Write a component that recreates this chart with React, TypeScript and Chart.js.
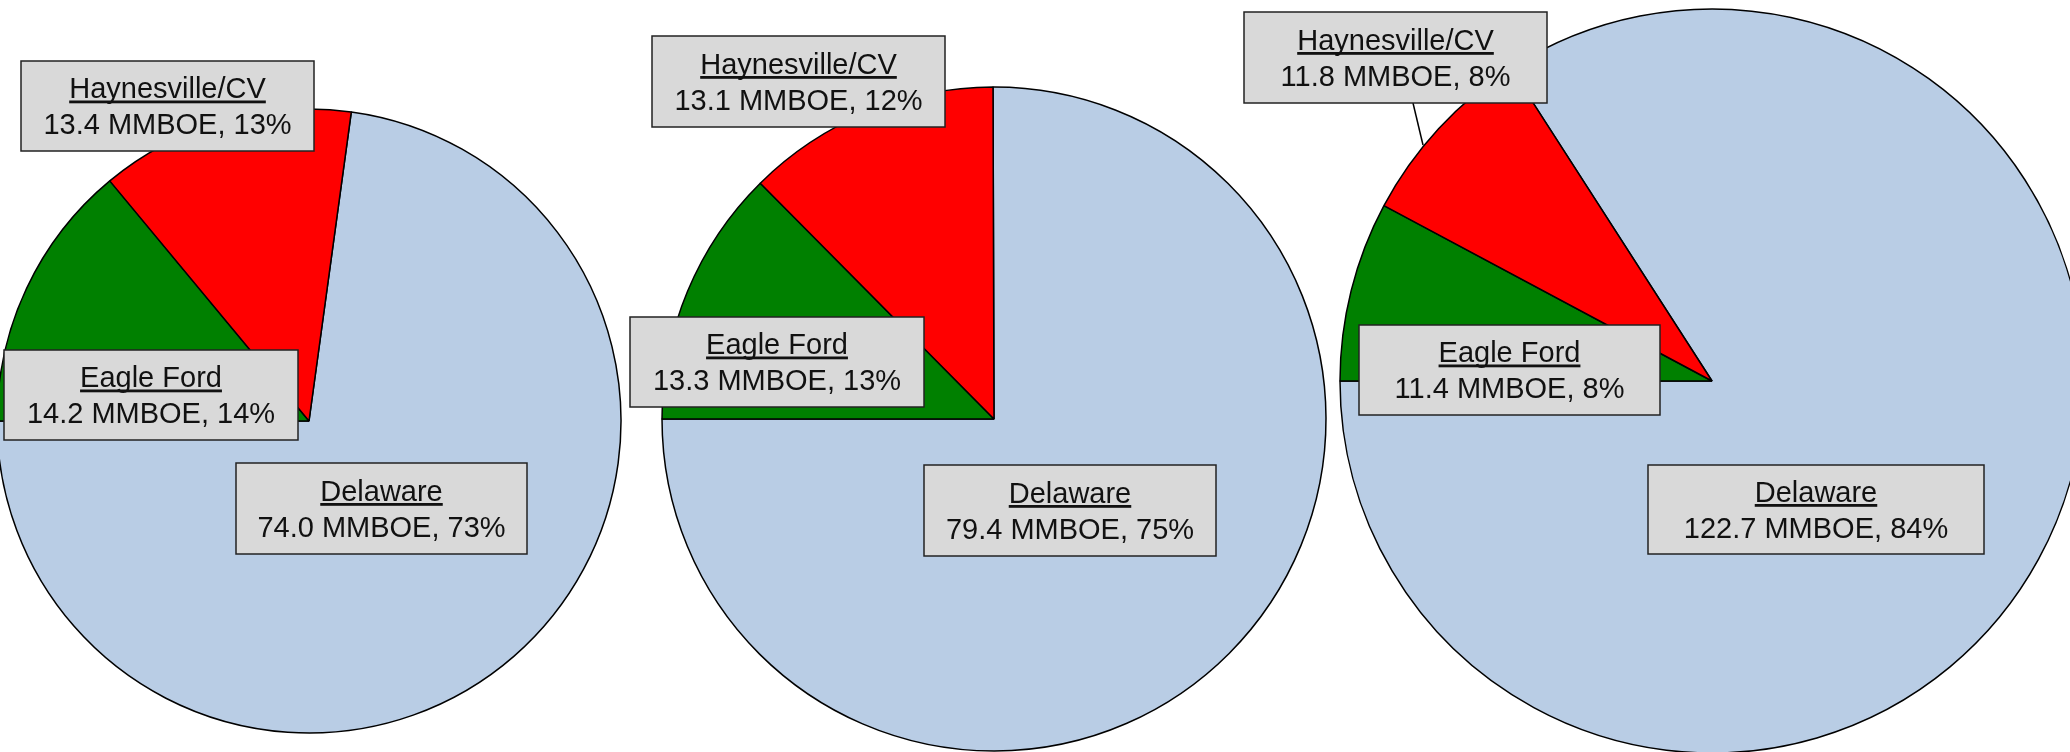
import React, { useEffect, useRef } from "react";
import { Chart, registerables } from "chart.js";

Chart.register(...registerables);

// ---- data ----
const CATEGORIES = ["Delaware", "Eagle Ford", "Haynesville/CV"];
const PIE1_VALUES = [74.0, 14.2, 13.4];
const PIE2_VALUES = [79.4, 13.3, 13.1];
const PIE3_VALUES = [122.7, 11.4, 11.8];
const UNIT = "MMBOE";

// ---- styles / layout ----
const COLORS = ["#b9cde5", "#008000", "#ff0000"];
const W = 2070;
const H = 752;

type Box = [number, number, number, number];
interface PieLayout {
  values: number[];
  cx: number;
  cy: number;
  r: number;
  boxes: Box[]; // same order as CATEGORIES
  leader?: [number, number, number, number] | null;
}

const PIES: PieLayout[] = [
  {
    values: PIE1_VALUES,
    cx: 309,
    cy: 421,
    r: 312,
    boxes: [
      [236, 463, 527, 554],
      [4, 350, 298, 440],
      [21, 61, 314, 151],
    ],
  },
  {
    values: PIE2_VALUES,
    cx: 994,
    cy: 419,
    r: 332,
    boxes: [
      [924, 465, 1216, 556],
      [630, 317, 924, 407],
      [652, 36, 945, 127],
    ],
  },
  {
    values: PIE3_VALUES,
    cx: 1712,
    cy: 381,
    r: 372,
    boxes: [
      [1648, 465, 1984, 554],
      [1359, 325, 1660, 415],
      [1244, 12, 1547, 103],
    ],
    leader: [1413, 103, 1423, 145],
  },
];

const FONT = '29px "Liberation Sans", Arial, sans-serif';

function makeLabelPlugin(p: PieLayout) {
  return {
    id: "boxLabels",
    afterDatasetsDraw(chart: any) {
      const ctx: CanvasRenderingContext2D = chart.ctx;
      const total = p.values.reduce((a, b) => a + b, 0);
      ctx.save();
      if (p.leader) {
        ctx.beginPath();
        ctx.strokeStyle = "#000";
        ctx.lineWidth = 1.5;
        ctx.moveTo(p.leader[0], p.leader[1]);
        ctx.lineTo(p.leader[2], p.leader[3]);
        ctx.stroke();
      }
      CATEGORIES.forEach((name, i) => {
        const [x1, y1, x2, y2] = p.boxes[i];
        ctx.fillStyle = "#d9d9d9";
        ctx.fillRect(x1, y1, x2 - x1, y2 - y1);
        ctx.strokeStyle = "#222";
        ctx.lineWidth = 1.5;
        ctx.strokeRect(x1, y1, x2 - x1, y2 - y1);
        const mx = (x1 + x2) / 2;
        const my = (y1 + y2) / 2;
        const v = p.values[i];
        const pct = Math.round((v / total) * 100);
        const line2 = `${v.toFixed(1)} ${UNIT}, ${pct}%`;
        ctx.font = FONT;
        ctx.fillStyle = "#111";
        ctx.textAlign = "center";
        ctx.textBaseline = "alphabetic";
        ctx.fillText(name, mx, my - 8);
        const tw = ctx.measureText(name).width;
        ctx.fillRect(mx - tw / 2, my - 8 + 2.5, tw, 2.8);
        ctx.fillText(line2, mx, my + 28);
      });
      ctx.restore();
    },
  };
}

function PieCanvas({ layout }: { layout: PieLayout }) {
  const ref = useRef<HTMLCanvasElement | null>(null);
  useEffect(() => {
    if (!ref.current) return;
    const p = layout;
    const total = p.values.reduce((a, b) => a + b, 0);
    const rotation = 270 - (360 * p.values[0]) / total;
    const s = Math.min(p.cx, W - p.cx, p.cy, H - p.cy) - 2;
    const chart = new Chart(ref.current, {
      type: "pie",
      data: {
        labels: CATEGORIES,
        datasets: [
          {
            data: p.values,
            backgroundColor: COLORS,
            borderColor: "#000",
            borderWidth: 1.5,
            radius: p.r,
            clip: false,
          } as any,
        ],
      },
      options: {
        responsive: false,
        animation: false,
        events: [],
        rotation,
        layout: {
          padding: {
            left: p.cx - s,
            right: W - p.cx - s,
            top: p.cy - s,
            bottom: H - p.cy - s,
          },
        },
        plugins: {
          legend: { display: false },
          tooltip: { enabled: false },
        },
      } as any,
      plugins: [makeLabelPlugin(p)],
    });
    return () => chart.destroy();
  }, [layout]);
  return (
    <canvas
      ref={ref}
      width={W}
      height={H}
      style={{ position: "absolute", left: 0, top: 0, width: W, height: H }}
    />
  );
}

export default function App() {
  useEffect(() => {
    document.body.style.margin = "0";
  }, []);
  return (
    <div
      style={{
        position: "relative",
        width: W,
        height: H,
        overflow: "hidden",
        background: "#fff",
      }}
    >
      {PIES.map((p, i) => (
        <PieCanvas key={i} layout={p} />
      ))}
    </div>
  );
}
